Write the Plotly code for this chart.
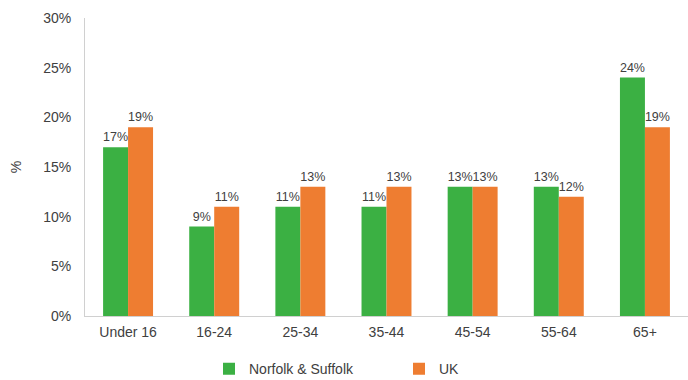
import plotly.graph_objects as go

age_groups = ["Under 16", "16-24", "25-34", "35-44", "45-54", "55-64", "65+"]
norfolk_suffolk = [17, 9, 11, 11, 13, 13, 24]
uk = [19, 11, 13, 13, 13, 12, 19]

green = "#3BB043"
orange = "#EE7D31"
text_color = "#404040"
font_family = "Liberation Sans, Arial, sans-serif"

def bar(name, values, color):
    return go.Bar(
        name=name, x=age_groups, y=values,
        marker=dict(color=color, line=dict(width=0)),
        text=[f"{v}%" for v in values], textposition="outside",
        textangle=0, constraintext="none",
        textfont=dict(size=12.5, color=text_color), cliponaxis=False,
    )

fig = go.Figure([bar("Norfolk & Suffolk", norfolk_suffolk, green),
                 bar("UK", uk, orange)])

fig.update_layout(
    width=688, height=380,
    margin=dict(l=85, r=0, t=18, b=64, autoexpand=False),
    paper_bgcolor="white", plot_bgcolor="white",
    barmode="group", bargap=0.42, bargroupgap=0,
    font=dict(family=font_family, size=14, color=text_color),
    showlegend=True,
    legend=dict(orientation="h", x=(209 - 85) / 603, xanchor="left",
                y=-0.125, yanchor="top",
                entrywidth=145, itemwidth=30,
                font=dict(size=14, color=text_color), traceorder="normal"),
    xaxis=dict(showgrid=False, showline=True, linecolor="#D0D0D0", linewidth=1,
               ticks="outside", ticklen=3, tickcolor="rgba(0,0,0,0)",
               tickfont=dict(size=14, color=text_color)),
    yaxis=dict(range=[0, 30], dtick=5, ticksuffix="%", showgrid=False,
               showline=True, linecolor="#D0D0D0", linewidth=1, zeroline=False,
               ticks="outside", ticklen=10, tickcolor="rgba(0,0,0,0)",
               tickfont=dict(size=14, color=text_color),
               title=dict(text="%", font=dict(size=14, color=text_color), standoff=18)),
)

fig.write_html("out.html")
